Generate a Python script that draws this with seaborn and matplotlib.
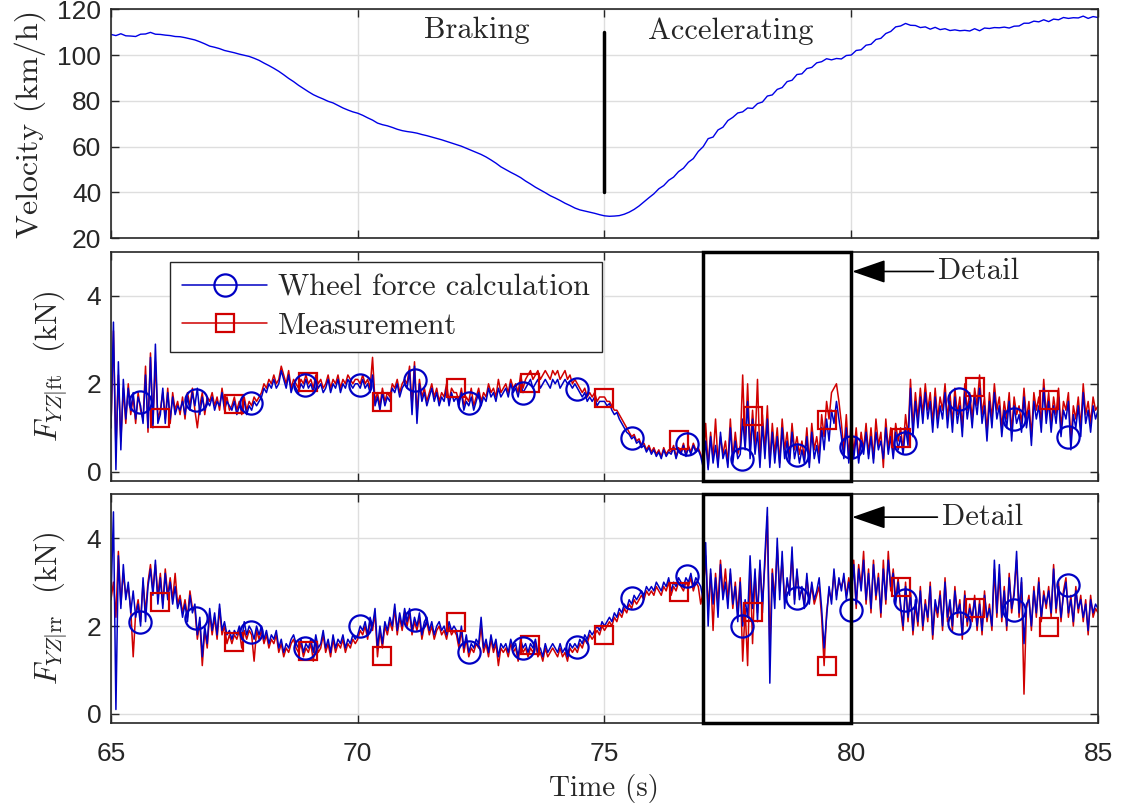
import numpy as np
import matplotlib
matplotlib.use("Agg")
import matplotlib.pyplot as plt
import seaborn as sns
from matplotlib.patches import Rectangle
from matplotlib.lines import Line2D

# ---------------- data ----------------
velocity = [
    109.0, 108.5, 109.3, 108.4, 108.3, 108.1, 109.1, 109.2, 109.9, 109.1,
    109.0, 108.7, 108.5, 108.1, 108.0, 107.6, 107.1, 106.6, 105.8, 104.9,
    103.9, 103.4, 102.8, 102.0, 101.5, 101.0, 100.4, 99.9, 99.4, 98.6,
    97.7, 96.5, 95.4, 94.2, 92.9, 91.4, 89.8, 88.4, 86.8, 85.4,
    84.0, 82.7, 81.7, 80.8, 79.8, 79.1, 78.0, 76.9, 76.0, 75.2,
    74.6, 73.7, 72.6, 71.6, 70.3, 69.6, 69.1, 68.4, 67.6, 67.0,
    66.6, 66.3, 65.9, 65.3, 64.8, 64.2, 63.6, 63.0, 62.3, 61.6,
    60.9, 60.2, 59.3, 58.4, 57.5, 56.6, 55.5, 54.2, 52.8, 51.2,
    50.0, 48.8, 47.7, 46.5, 45.0, 43.7, 42.3, 41.1, 39.9, 38.6,
    37.6, 36.5, 35.3, 34.3, 33.2, 32.4, 31.9, 31.4, 30.9, 30.3,
    29.8, 29.6, 29.7, 29.9, 30.5, 31.4, 32.6, 34.1, 35.9, 37.7,
    39.4, 41.6, 43.0, 45.3, 46.7, 49.1, 50.6, 53.2, 54.8, 57.9,
    60.0, 63.5, 64.2, 67.3, 68.5, 71.4, 72.8, 74.7, 75.2, 76.9,
    76.7, 78.8, 79.5, 82.1, 82.6, 85.0, 85.8, 88.4, 89.0, 91.5,
    91.8, 94.1, 94.6, 96.6, 97.1, 98.4, 97.9, 98.5, 98.3, 99.8,
    100.0, 102.0, 102.3, 104.3, 104.7, 106.8, 107.3, 109.4, 110.3, 112.3,
    112.7, 113.8, 113.0, 112.9, 112.0, 112.3, 111.3, 112.1, 111.1, 111.5,
    110.7, 111.0, 110.6, 110.8, 110.5, 111.5, 110.6, 111.8, 111.6, 112.0,
    111.9, 112.2, 111.8, 112.6, 112.7, 113.9, 113.9, 114.8, 114.5, 115.4,
    114.6, 115.7, 115.4, 116.4, 116.0, 116.3, 116.2, 117.0, 116.0, 116.8,
    116.4,
]

ft_calc = [
    1.0, 3.4, 0.05, 2.5, 0.5, 2.1, 1.2, 1.9, 1.4, 1.8, 1.2, 1.7, 1.5, 1.1, 2.2, 1.0, 2.6, 1.0, 2.9, 1.1,
    1.3, 1.9, 1.1, 1.8, 1.2, 1.7, 1.3, 1.5, 1.4, 1.6, 1.3, 1.7, 1.4, 1.8, 1.5, 1.9, 1.3, 1.7, 1.4, 1.6,
    1.5, 1.7, 1.4, 1.6, 1.5, 1.8, 1.4, 1.6, 1.5, 1.4, 1.6, 1.3, 1.5, 1.4, 1.6, 1.3, 1.5, 1.4, 1.6, 1.5,
    1.6, 1.7, 1.9, 1.8, 2.0, 1.9, 2.1, 1.9, 2.0, 2.3, 2.1, 1.9, 2.2, 1.8, 2.0, 1.9, 1.8, 2.0, 1.9, 2.1,
    1.9, 2.0, 1.8, 2.1, 1.9, 2.0, 1.8, 1.9, 2.1, 1.8, 2.0, 1.9, 2.1, 1.8, 2.0, 1.9, 2.1, 2.0, 1.9, 2.0,
    2.0, 1.9, 2.1, 1.9, 2.0, 1.8, 2.2, 1.5, 1.7, 1.4, 1.8, 1.5, 1.7, 1.6, 1.9, 1.8, 2.0, 1.7, 1.9, 2.0,
    1.9, 2.3, 1.3, 2.4, 1.1, 2.0, 1.6, 1.8, 1.5, 1.7, 1.9, 1.6, 1.8, 1.5, 1.7, 1.6, 1.9, 1.5, 1.8, 1.6,
    1.7, 1.5, 1.8, 1.4, 1.6, 1.5, 1.7, 1.4, 1.6, 1.8, 1.5, 1.7, 1.6, 1.9, 1.7, 1.8, 1.6, 1.9, 1.7, 1.8,
    1.9, 1.7, 2.0, 1.8, 1.9, 1.7, 2.0, 1.8, 1.9, 2.0, 2.1, 1.9, 2.0, 2.1, 1.9, 2.0, 2.1, 2.0, 1.9, 2.1,
    2.0, 2.1, 1.9, 2.0, 2.1, 2.0, 2.0, 1.9, 2.0, 1.9, 1.8, 1.7, 1.8, 1.6, 1.7, 1.6, 1.7, 1.5, 1.6, 1.6,
    1.6, 1.5, 1.55, 1.4, 1.3, 1.35, 1.2, 1.1, 1.0, 0.9, 0.85, 0.75, 0.8, 0.65, 0.7, 0.55, 0.6, 0.45, 0.55, 0.4,
    0.5, 0.35, 0.45, 0.3, 0.5, 0.35, 0.45, 0.4, 0.55, 0.3, 0.5, 0.4, 0.6, 0.35, 0.55, 0.4, 0.6, 0.45, 0.5, 0.35,
    0.1, 0.7, 0.05, 0.8, 0.2, 0.6, 0.1, 0.9, 0.3, 0.5, 0.1, 1.0, 0.2, 0.7, 0.3, 0.4, 1.2, 0.5, 1.6, 0.3,
    1.2, 0.4, 0.9, 0.1, 1.1, 0.3, 1.2, 0.1, 0.9, 0.2, 0.8, 0.1, 1.0, 0.3, 0.7, 0.2, 0.9, 0.3, 0.6, 0.2,
    0.5, 0.2, 0.8, 0.1, 0.9, 0.3, 0.6, 0.2, 1.0, 0.5, 1.2, 0.7, 1.4, 1.1, 1.6, 1.2, 0.8, 0.3, 1.0, 0.2,
    0.9, 0.3, 0.8, 0.2, 0.7, 0.4, 0.9, 0.3, 0.8, 0.2, 0.9, 0.5, 0.7, 0.3, 1.0, 0.4, 0.8, 0.3, 0.9, 0.5,
    0.8, 0.4, 1.0, 0.6, 1.9, 0.8, 1.6, 1.0, 1.7, 1.1, 1.8, 1.2, 1.6, 0.9, 1.7, 1.0, 1.5, 1.2, 1.8, 1.0,
    1.6, 0.9, 1.7, 1.1, 1.5, 0.8, 1.8, 1.2, 1.6, 1.0, 1.7, 1.3, 1.9, 1.1, 1.5, 0.7, 1.6, 1.0, 1.8, 1.2,
    1.5, 0.8, 1.4, 1.0, 1.6, 0.7, 1.5, 1.1, 1.3, 0.9, 1.7, 1.0, 1.4, 0.6, 1.6, 1.2, 1.5, 0.9, 1.9, 1.1,
    1.6, 0.9, 1.5, 1.1, 1.7, 0.8, 1.4, 1.2, 1.6, 0.5, 1.3, 1.0, 1.5, 0.8, 1.8, 1.1, 1.4, 0.9, 1.5, 1.2,
    1.4,
]

ft_meas = [
    1.0, 3.2, 0.5, 2.2, 0.7, 1.9, 1.1, 2.0, 1.3, 1.7, 1.1, 1.8, 1.4, 1.2, 2.4, 0.9, 2.7, 1.1, 2.5, 1.2,
    1.4, 1.8, 1.2, 1.9, 1.1, 1.8, 1.4, 1.6, 1.3, 1.7, 1.2, 1.8, 1.5, 1.9, 1.4, 1.0, 1.5, 1.8, 1.3, 1.7,
    1.6, 1.8, 1.5, 1.7, 1.4, 1.9, 1.5, 1.7, 1.4, 1.5, 1.7, 1.4, 1.6, 1.3, 1.7, 1.4, 1.6, 1.5, 1.7, 1.6,
    1.7, 1.8, 2.0, 1.9, 2.1, 2.0, 2.2, 2.0, 2.1, 2.4, 2.2, 2.0, 2.3, 1.9, 2.1, 2.0, 1.9, 2.1, 2.0, 2.2,
    2.0, 2.1, 1.9, 2.2, 2.0, 2.1, 1.9, 2.0, 2.2, 1.9, 2.1, 2.0, 2.2, 1.9, 2.1, 2.0, 2.2, 2.1, 2.0, 2.1,
    2.1, 2.0, 2.2, 2.0, 2.1, 1.9, 2.6, 1.6, 1.8, 1.5, 1.9, 1.6, 1.8, 1.7, 2.0, 1.9, 2.1, 1.8, 2.0, 2.1,
    2.0, 2.4, 1.5, 2.5, 1.3, 2.1, 1.7, 1.9, 1.6, 1.8, 2.0, 1.7, 1.9, 1.6, 1.8, 1.7, 2.0, 1.6, 1.9, 1.8,
    1.8, 1.6, 1.9, 1.5, 1.7, 1.6, 1.9, 1.5, 1.7, 1.9, 1.6, 1.8, 1.7, 2.0, 1.8, 1.9, 1.7, 2.1, 1.8, 1.9,
    2.0, 1.8, 2.1, 1.9, 2.0, 1.8, 2.2, 1.9, 2.1, 2.2, 2.3, 2.1, 2.2, 2.3, 2.1, 2.2, 2.3, 2.2, 2.1, 2.3,
    2.2, 2.3, 2.1, 2.2, 2.3, 2.1, 2.2, 2.0, 2.1, 2.0, 1.9, 1.8, 1.9, 1.7, 1.8, 1.7, 1.8, 1.6, 1.7, 1.7,
    1.7, 1.6, 1.6, 1.5, 1.4, 1.4, 1.3, 1.2, 1.1, 1.0, 0.9, 0.8, 0.85, 0.7, 0.75, 0.6, 0.65, 0.5, 0.6, 0.45,
    0.55, 0.4, 0.5, 0.35, 0.55, 0.4, 0.5, 0.45, 0.6, 0.35, 0.55, 0.45, 0.65, 0.4, 0.6, 0.45, 0.65, 0.5, 0.55, 0.4,
    0.2, 1.1, 0.1, 0.9, 0.3, 1.2, 0.2, 0.8, 0.4, 0.7, 0.2, 1.2, 0.3, 0.9, 0.4, 0.6, 2.2, 0.6, 2.0, 0.5,
    1.4, 0.6, 2.1, 0.3, 1.3, 0.5, 1.5, 0.2, 1.1, 0.4, 1.0, 0.2, 1.2, 0.5, 0.9, 0.3, 1.1, 0.5, 0.8, 0.4,
    0.7, 0.3, 1.0, 0.2, 1.1, 0.5, 0.8, 0.4, 1.3, 0.8, 1.6, 1.2, 1.8, 1.9, 2.0, 1.6, 1.1, 0.5, 1.3, 0.3,
    1.2, 0.4, 1.0, 0.3, 0.9, 0.5, 1.1, 0.4, 1.0, 0.3, 1.2, 0.6, 0.9, 0.1, 1.2, 0.5, 1.0, 0.4, 1.1, 0.7,
    1.0, 0.5, 1.3, 0.8, 2.1, 1.0, 1.8, 1.2, 1.9, 1.3, 2.0, 1.4, 1.8, 1.1, 1.9, 1.2, 1.7, 1.4, 2.0, 1.2,
    1.8, 1.1, 1.9, 1.3, 1.7, 1.0, 2.0, 1.4, 1.8, 1.2, 1.9, 1.5, 2.2, 1.3, 1.7, 0.9, 1.8, 1.2, 2.0, 1.4,
    1.7, 1.0, 1.6, 1.2, 1.8, 0.9, 1.7, 1.3, 1.5, 1.1, 1.9, 1.2, 1.6, 0.8, 1.8, 1.4, 1.7, 1.1, 2.1, 1.3,
    1.8, 1.1, 1.7, 1.3, 1.9, 1.0, 1.6, 1.4, 1.8, 0.7, 1.5, 1.2, 1.7, 1.0, 2.0, 1.3, 1.6, 1.1, 1.7, 1.4,
    1.5,
]

rr_calc = [
    2.6, 4.6, 0.1, 3.6, 2.4, 3.4, 2.6, 3.0, 2.3, 2.8, 2.2, 2.5, 2.0, 3.1, 2.1, 2.9, 3.3, 2.7, 3.5, 2.5,
    3.1, 2.4, 3.2, 2.6, 3.0, 2.5, 2.9, 2.4, 2.6, 2.2, 2.5, 2.1, 2.7, 2.3, 2.5, 1.8, 2.2, 1.3, 2.0, 1.6,
    2.4, 1.9, 2.3, 1.8, 2.5, 1.9, 2.1, 1.8, 1.9, 1.7, 1.9, 1.8, 2.0, 1.7, 2.1, 1.8, 2.0, 1.9, 1.7, 2.0,
    1.8, 2.0, 1.7, 1.9, 1.6, 1.8, 1.7, 1.9, 1.5, 1.7, 1.4, 1.6, 1.5, 1.7, 1.8, 1.6, 1.5, 1.7, 1.4, 1.6,
    1.5, 1.7, 1.4, 1.8, 1.5, 1.6, 1.9, 1.5, 1.7, 1.4, 1.8, 1.5, 1.7, 1.6, 1.8, 1.5, 1.7, 1.6, 1.8, 1.7,
    1.8, 2.0, 1.9, 2.1, 1.8, 2.2, 2.0, 2.4, 1.5, 2.0, 1.6, 2.1, 1.9, 2.2, 2.0, 2.5, 1.9, 2.3, 2.0, 2.4,
    2.1, 2.4, 1.9, 2.2, 2.0, 2.3, 1.8, 2.1, 2.2, 1.9, 2.1, 1.8, 2.0, 2.1, 1.9, 2.0, 1.8, 2.1, 1.9, 2.0,
    1.9, 1.6, 2.0, 1.5, 1.8, 1.4, 1.6, 1.5, 1.7, 1.6, 2.2, 1.5, 1.7, 1.4, 1.8, 1.5, 1.7, 1.3, 1.6, 1.5,
    1.6, 1.4, 1.7, 1.5, 1.6, 1.3, 1.7, 1.5, 1.6, 1.4, 1.6, 1.5, 1.7, 1.4, 1.5, 1.3, 1.6, 1.4, 1.5, 1.6,
    1.5, 1.4, 1.6, 1.4, 1.5, 1.3, 1.6, 1.5, 1.6, 1.5, 1.7, 1.6, 1.8, 1.7, 1.9, 1.8, 1.9, 2.0, 1.9, 2.1,
    2.0, 2.1, 2.2, 2.1, 2.3, 2.2, 2.4, 2.3, 2.5, 2.4, 2.6, 2.5, 2.7, 2.6, 2.7, 2.8, 2.7, 2.9, 2.8, 2.9,
    2.8, 3.0, 2.9, 2.8, 3.0, 2.9, 3.1, 2.8, 3.0, 2.9, 3.1, 3.0, 2.9, 3.1, 3.0, 3.2, 2.9, 3.1, 3.0, 2.9,
    2.6, 3.9, 2.0, 3.3, 2.5, 3.1, 2.2, 3.4, 2.6, 3.0, 2.4, 3.3, 2.5, 2.9, 2.1, 3.0, 2.0, 2.6, 2.2, 3.6,
    2.4, 3.3, 2.1, 3.5, 2.3, 3.6, 4.7, 0.7, 3.2, 2.4, 4.0, 2.6, 3.7, 2.4, 3.1, 2.7, 3.8, 2.5, 3.3, 2.6,
    2.9, 2.4, 3.2, 2.5, 3.0, 2.6, 2.8, 3.1, 2.4, 1.5, 2.2, 2.9, 2.5, 3.3, 2.6, 3.1, 2.8, 3.2, 2.6, 3.0,
    2.6, 3.4, 2.5, 3.3, 2.8, 3.5, 2.6, 3.2, 2.4, 3.4, 2.7, 3.1, 2.3, 3.3, 2.6, 3.5, 2.9, 3.2, 2.5, 3.0,
    2.5, 2.0, 2.9, 2.2, 2.7, 1.9, 2.6, 2.1, 2.8, 2.0, 2.5, 2.2, 2.9, 1.8, 2.6, 2.3, 2.7, 2.0, 3.0, 2.2,
    2.6, 2.0, 2.8, 2.3, 2.5, 1.8, 2.7, 2.1, 2.4, 2.2, 2.6, 2.0, 2.5, 1.9, 2.7, 2.2, 2.4, 2.0, 3.5, 2.3,
    3.4, 2.2, 2.8, 2.0, 3.1, 2.4, 2.7, 3.7, 2.3, 3.1, 1.6, 2.5, 2.6, 2.0, 2.8, 2.3, 3.0, 2.2, 2.7, 2.5,
    2.8, 2.3, 3.3, 2.4, 2.9, 2.2, 2.7, 3.0, 2.3, 2.6, 2.1, 2.8, 2.4, 2.6, 2.2, 2.5, 1.9, 2.6, 2.3, 2.5,
    2.4,
]

rr_meas = [
    2.6, 3.0, 2.2, 3.7, 2.5, 3.2, 2.7, 2.9, 2.4, 1.3, 2.3, 2.6, 2.1, 3.0, 2.3, 3.0, 3.4, 2.8, 3.4, 2.7,
    3.2, 2.5, 3.3, 2.7, 3.1, 2.6, 3.2, 2.5, 2.7, 2.3, 2.6, 2.2, 2.8, 2.4, 2.4, 1.7, 2.1, 1.1, 1.9, 1.5,
    2.3, 1.8, 2.2, 1.7, 2.4, 1.8, 2.0, 1.6, 1.8, 1.6, 1.8, 1.7, 1.9, 1.5, 1.9, 1.7, 1.9, 1.8, 1.2, 1.9,
    1.7, 1.9, 1.6, 1.8, 1.5, 1.7, 1.6, 1.8, 1.4, 1.6, 1.3, 1.5, 1.4, 1.6, 1.7, 1.5, 1.4, 1.6, 1.3, 1.5,
    1.4, 1.6, 1.2, 1.7, 1.4, 1.5, 1.8, 1.4, 1.6, 1.3, 1.7, 1.4, 1.6, 1.5, 1.7, 1.4, 1.6, 1.5, 1.7, 1.6,
    1.7, 1.9, 1.8, 2.0, 1.7, 2.1, 1.9, 2.3, 1.3, 1.9, 1.5, 2.0, 1.8, 2.1, 1.9, 2.4, 1.8, 2.2, 1.9, 2.3,
    2.0, 2.3, 1.8, 2.1, 1.9, 2.2, 1.7, 2.0, 2.1, 1.8, 2.0, 1.7, 1.9, 2.0, 1.8, 1.9, 1.7, 2.0, 1.8, 1.9,
    1.8, 1.5, 1.9, 1.4, 1.7, 1.3, 1.5, 1.4, 1.6, 1.5, 2.0, 1.4, 1.6, 1.3, 1.7, 1.4, 1.6, 1.1, 1.5, 1.4,
    1.5, 1.3, 1.6, 1.4, 1.5, 1.2, 1.6, 1.4, 1.5, 1.3, 1.5, 1.4, 1.6, 1.3, 1.4, 1.2, 1.5, 1.3, 1.4, 1.5,
    1.4, 1.3, 1.5, 1.3, 1.4, 1.2, 1.5, 1.4, 1.5, 1.4, 1.6, 1.5, 1.7, 1.6, 1.8, 1.7, 1.8, 1.9, 1.8, 2.0,
    1.9, 2.0, 2.1, 2.0, 2.2, 2.1, 2.3, 2.2, 2.4, 2.3, 2.5, 2.4, 2.6, 2.5, 2.6, 2.7, 2.6, 2.8, 2.7, 2.8,
    2.7, 2.9, 2.8, 2.7, 2.9, 2.8, 3.0, 2.7, 2.9, 2.8, 3.0, 2.9, 2.8, 3.0, 2.9, 3.1, 2.8, 3.0, 2.9, 2.5,
    2.8, 3.6, 2.4, 3.2, 1.9, 3.2, 2.5, 3.5, 2.7, 3.3, 2.6, 3.2, 2.4, 3.0, 2.3, 3.1, 1.2, 2.4, 1.1, 3.4,
    1.6, 3.2, 2.3, 3.4, 2.5, 3.4, 4.5, 1.5, 3.3, 2.6, 3.8, 2.8, 3.5, 2.6, 3.0, 2.8, 3.6, 2.6, 3.2, 2.7,
    2.8, 2.5, 3.1, 2.6, 2.9, 2.5, 2.7, 2.9, 2.2, 1.1, 2.3, 2.8, 2.6, 3.2, 2.7, 3.0, 2.9, 3.1, 2.7, 3.1,
    2.7, 3.5, 2.4, 3.4, 2.9, 3.7, 2.5, 3.3, 2.3, 3.5, 2.6, 3.2, 2.2, 3.5, 2.5, 3.7, 2.8, 3.3, 2.6, 3.1,
    2.4, 1.9, 3.0, 2.1, 2.8, 1.8, 2.5, 2.0, 2.9, 1.9, 2.6, 2.1, 3.0, 1.7, 2.5, 2.2, 2.8, 1.9, 3.1, 2.1,
    2.5, 1.9, 2.9, 2.2, 2.6, 1.7, 2.8, 2.0, 2.5, 2.1, 2.7, 1.9, 2.6, 1.8, 2.8, 2.1, 2.5, 1.9, 3.3, 2.2,
    3.2, 2.1, 2.9, 1.9, 3.2, 2.3, 2.8, 3.5, 2.2, 3.0, 0.45, 2.4, 2.7, 1.9, 2.9, 2.2, 3.1, 2.1, 2.8, 2.4,
    2.9, 2.2, 3.4, 2.3, 3.0, 2.1, 2.8, 3.1, 2.2, 2.7, 2.0, 2.9, 2.3, 2.7, 2.1, 2.6, 1.8, 2.7, 2.2, 2.4,
    2.3,
]

circle_times = [65.59, 66.72, 67.84, 68.93, 70.05, 71.16, 72.25, 73.35, 74.44,
                75.56, 76.67, 77.79, 78.90, 79.99, 81.09, 82.18, 83.30, 84.39]
circle_ft = [1.59, 1.64, 1.57, 1.98, 1.98, 2.09, 1.57, 1.80, 1.89,
             0.77, 0.64, 0.30, 0.39, 0.57, 0.66, 1.66, 1.20, 0.80]
circle_rr = [2.09, 2.18, 1.86, 1.50, 2.00, 2.14, 1.41, 1.50, 1.52,
             2.64, 3.14, 2.00, 2.64, 2.36, 2.59, 2.07, 2.36, 2.93]
square_times = [66.0, 67.5, 69.0, 70.5, 72.0, 73.5, 75.0, 76.5, 78.0, 79.5, 81.0, 82.5, 84.0]
square_ft = [1.23, 1.55, 2.05, 1.59, 1.91, 2.02, 1.68, 0.73, 1.27, 1.18, 0.77, 1.93, 1.64]
square_rr = [2.55, 1.64, 1.43, 1.32, 2.09, 1.57, 1.80, 2.77, 2.32, 1.09, 2.89, 2.41, 1.98]

x_ticks = [65, 70, 75, 80, 85]
v_ticks = [20, 40, 60, 80, 100, 120]
f_ticks = [0, 2, 4]
legend_labels = ["Wheel force calculation", "Measurement"]

# ---------------- style ----------------
sns.set_theme(style="ticks")
plt.rcParams["font.family"] = ["Liberation Sans", "DejaVu Sans"]
plt.rcParams["mathtext.fontset"] = "cm"
SERIF = "cmr10"

BLUE = "#0000C4"
RED = "#D00000"
VBLUE = "#0000E6"
AXC = "#262626"
GRID = "#DEDEDE"

fig = plt.figure(figsize=(11.21, 8.11), dpi=100)
L, W = 0.0990, 0.8805
ax1 = fig.add_axes([L, 0.7062, W, 0.2824])
ax2 = fig.add_axes([L, 0.4073, W, 0.2824])
ax3 = fig.add_axes([L, 0.1089, W, 0.2816])

t_vel = np.linspace(65, 85, len(velocity))
t_ft = np.linspace(65, 85, len(ft_calc))
t_ftm = np.linspace(65, 85, len(ft_meas))
t_rr = np.linspace(65, 85, len(rr_calc))
t_rrm = np.linspace(65, 85, len(rr_meas))

for ax in (ax1, ax2, ax3):
    ax.set_xlim(65, 85)
    ax.set_xticks(x_ticks)
    ax.grid(True, color=GRID, lw=1.0)
    ax.set_axisbelow(True)
    for s in ax.spines.values():
        s.set_color(AXC)
        s.set_linewidth(1.2)
    ax.tick_params(direction="in", length=6, width=1.0, color=AXC,
                   top=True, right=True, labelsize=19, labelcolor=AXC, pad=7)
ax3.tick_params(axis="x", pad=14)

# --- velocity ---
sns.lineplot(x=t_vel, y=velocity, ax=ax1, color=VBLUE, lw=1.0)
ax1.set_ylim(20, 120)
ax1.set_yticks(v_ticks)
ax1.tick_params(labelbottom=False)
ax1.plot([75, 75], [40, 110], color="black", lw=2.5)
ax1.text(72.42, 110.6, "Braking", fontfamily=SERIF, fontsize=22, ha="center", va="center")
ax1.text(77.56, 110.6, "Accelerating", fontfamily=SERIF, fontsize=22, ha="center", va="center")
ax1.set_ylabel("Velocity (km/h)", fontfamily=SERIF, fontsize=23, labelpad=8)

# --- forces ---
def force_panel(ax, tc, calc, tm, meas, cvals, svals, label, arrow_y, text_x):
    sns.lineplot(x=tm, y=meas, ax=ax, color=RED, lw=1.1)
    sns.lineplot(x=tc, y=calc, ax=ax, color=BLUE, lw=1.1)
    ax.plot(square_times, svals, ls="none", marker="s", ms=13, mfc="none",
            mec=RED, mew=1.6)
    ax.plot(circle_times, cvals, ls="none", marker="o", ms=16, mfc="none",
            mec=BLUE, mew=1.6)
    ax.set_ylim(-0.2, 5.0)
    ax.set_yticks(f_ticks)
    ax.set_ylabel(label, fontfamily=SERIF, fontsize=22, labelpad=12)
    ax.add_patch(Rectangle((77, -0.2), 3, 5.2, fill=False, ec="black", lw=2.5,
                           clip_on=False, zorder=5))
    ax.annotate("Detail", xy=(80.02, arrow_y), xytext=(text_x, arrow_y),
                fontfamily=SERIF, fontsize=22, ha="left", va="center",
                arrowprops=dict(arrowstyle="-|>,head_length=0.95,head_width=0.33",
                                color="black", lw=1.2, shrinkA=1, shrinkB=0))

force_panel(ax2, t_ft, ft_calc, t_ftm, ft_meas, circle_ft, square_ft,
            r"$F_{YZ|\mathrm{ft}}$  (kN)", 4.55, 81.76)
ax2.tick_params(labelbottom=False)
force_panel(ax3, t_rr, rr_calc, t_rrm, rr_meas, circle_rr, square_rr,
            r"$F_{YZ|\mathrm{rr}}$  (kN)", 4.48, 81.84)
ax3.set_xlabel("Time (s)", fontfamily=SERIF, fontsize=21, labelpad=6)

handles = [
    Line2D([], [], color=BLUE, lw=1.1, marker="o", ms=16, mfc="none", mec=BLUE, mew=1.6),
    Line2D([], [], color=RED, lw=1.1, marker="s", ms=13, mfc="none", mec=RED, mew=1.6),
]
leg = ax2.legend(handles, legend_labels, loc="upper left", bbox_to_anchor=(0.0595, 0.955),
                 prop={"family": SERIF, "size": 22}, frameon=True, fancybox=False,
                 edgecolor=AXC, framealpha=1, handlelength=2.8, handletextpad=0.35,
                 borderpad=0.4, labelspacing=0.35, borderaxespad=0)
leg.get_frame().set_linewidth(1.0)

fig.savefig("out.png", dpi=100)
